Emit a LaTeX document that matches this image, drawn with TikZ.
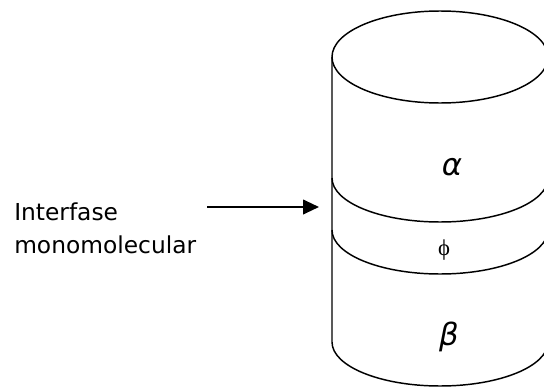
\documentclass[tikz,border=0pt]{standalone}
\usepackage{fontspec}
\setmainfont{DejaVu Sans}
\newfontfamily\phifont{Liberation Serif}
\usetikzlibrary{arrows.meta,positioning}
\begin{document}
\begin{tikzpicture}[x=0.75pt,y=0.75pt,
  wall/.style={line width=1.1pt},
  lbl/.style={inner sep=0pt,font=\fontsize{17.5}{20}\selectfont},
  phase/.style={inner sep=0pt,font=\fontsize{23}{26}\selectfont\itshape},
  pointer/.style={line width=1.5pt,-{Triangle[length=12pt,width=11pt]}}]
 \clip (0,0) rectangle (544,387);
 \draw[wall] (440,330) ellipse [x radius=108,y radius=46];
 \draw[wall] (548,330)--(548,45) arc [start angle=0,end angle=-180,x radius=108,y radius=44]--(332,330);
 \draw[wall] (332,209) arc [start angle=180,end angle=360,x radius=108,y radius=44];
 \draw[wall] (332,157) arc [start angle=180,end angle=360,x radius=108,y radius=44];
 \node[phase] (alpha) at (452,220) {α};
 \node[inner sep=0pt,font=\phifont\fontsize{17}{19}\selectfont] (phi) at (444,137) {ϕ};
 \node[phase] (beta) at (449,50) {β};
 \node[lbl,anchor=base west] (inter) at (14,167) {Interfase};
 \node[lbl,anchor=base west] (mono) at ([yshift=-24.75pt]inter.base west) {monomolecular};
 \coordinate (from) at (207,180);
 \coordinate (to) at (319,180);
 \draw[pointer] (from)--(to);
\end{tikzpicture}
\end{document}
